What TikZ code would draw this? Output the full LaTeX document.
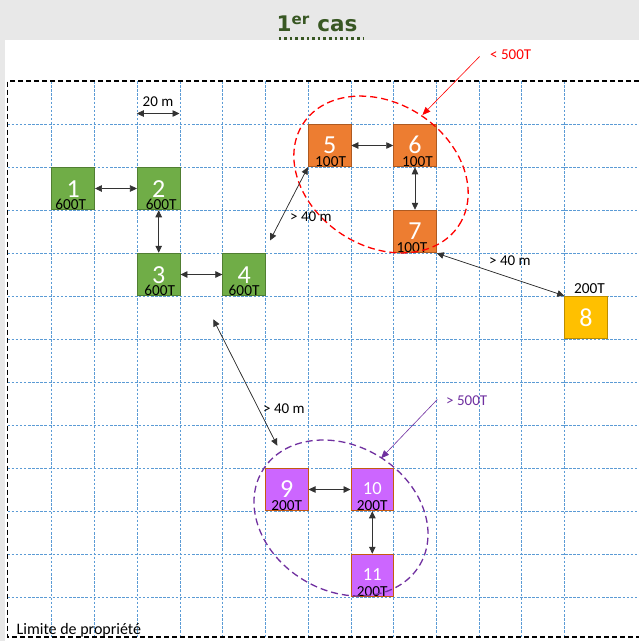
\documentclass[tikz,border=0pt]{standalone}
\usepackage{fontspec}
\setmainfont{Carlito}
\newfontfamily\titlefont{DejaVu Sans}
\usetikzlibrary{arrows.meta}
\definecolor{bggray}{RGB}{232,232,232}
\definecolor{gridblue}{RGB}{91,155,213}
\definecolor{gfill}{RGB}{112,173,71}
\definecolor{gdraw}{RGB}{80,126,50}
\definecolor{ofill}{RGB}{237,125,49}
\definecolor{odraw}{RGB}{174,90,33}
\definecolor{yfill}{RGB}{255,192,0}
\definecolor{ydraw}{RGB}{188,140,0}
\definecolor{pfill}{RGB}{204,102,255}
\definecolor{pdraw}{RGB}{197,90,17}
\definecolor{titlegreen}{RGB}{56,87,35}
\definecolor{redc}{RGB}{255,0,0}
\definecolor{purplec}{RGB}{112,48,160}
\begin{document}
\begin{tikzpicture}[x=1pt,y=-1pt,
  box/.style={draw, line width=0.8pt, minimum size=42.7pt, inner sep=0pt},
  num/.style={inner sep=0pt, text=white, font=\fontsize{26}{26}\selectfont},
  smallnum/.style={inner sep=0pt, text=white, font=\fontsize{18.5}{18.5}\selectfont},
  gbox/.style={box, fill=gfill, draw=gdraw},
  obox/.style={box, fill=ofill, draw=odraw},
  ybox/.style={box, fill=yfill, draw=ydraw},
  pbox/.style={box, fill=pfill, draw=pdraw},
  val/.style={anchor=base, inner sep=0pt, font=\fontsize{15.3}{15.3}\selectfont},
  lbl/.style={anchor=west, inner sep=0pt, font=\fontsize{15}{15}\selectfont},
  gridline/.style={draw=gridblue, line width=0.8pt, dash pattern=on 2.5pt off 1.6pt},
  border/.style={draw=black, line width=1.4pt, dash pattern=on 5pt off 3pt},
  dbl/.style={{Triangle[length=7pt,width=6.5pt]}-{Triangle[length=7pt,width=6.5pt]}, line width=0.7pt, draw=black!80, fill=black},
  pointer/.style={-{Triangle[length=8pt,width=6.5pt]}, line width=0.6pt},
  zone/.style={line width=1.3pt, dash pattern=on 7pt off 4pt}
]
\useasboundingbox (0,0) rectangle (639,641);
% backgrounds
\fill[bggray] (0,0) rectangle (639,641);
\fill[white] (5,40) rectangle (639,641);
% title
\node[anchor=base west, inner sep=0pt, text=titlegreen, font=\titlefont\fontsize{21.5}{21.5}\selectfont\bfseries] (title) at (276.5,31.7) {1\textsuperscript{er} cas};
\draw[titlegreen, line width=2.7pt, dash pattern=on 2.7pt off 2.9pt] (278.5,38.3) -- (363.5,38.3);
% grid
\foreach \i in {1,...,13} \draw[gridline] ({9.1+42.73*\i},81) -- ({9.1+42.73*\i},637);
\foreach \j in {1,...,12} \draw[gridline] (7.5,{81+43*\j}) -- (639,{81+43*\j});
% property limit
\draw[border] (639,81) -- (7.5,81) -- (7.5,637) -- (639,637);
\node[anchor=base west, inner sep=0pt, font=\fontsize{16}{16}\selectfont] (limite) at (16.5,634) {Limite de propriété};
% scale
\node[anchor=base, inner sep=0pt, font=\fontsize{15}{15}\selectfont] (scale) at (158,106.5) {20 m};
\coordinate (sa) at (136.8,113.5);
\coordinate (sb) at (179.5,113.5);
\draw[dbl] (sa) -- (sb);
% boxes
\node[gbox] (b1) at (73.2,188.5) {};
\node[gbox] (b2) at (158.7,188.5) {};
\node[gbox] (b3) at (158.7,274.5) {};
\node[gbox] (b4) at (244.1,274.5) {};
\node[obox] (b5) at (329.6,145.5) {};
\node[obox] (b6) at (415.0,145.5) {};
\node[obox] (b7) at (415.0,231.5) {};
\node[ybox] (b8) at (586.0,317.5) {};
\node[pbox] (b9) at (286.8,489.5) {};
\node[pbox] (b10) at (372.3,489.5) {};
\node[pbox] (b11) at (372.3,575.5) {};
% numbers
\node[num] (n1) at ([yshift=-0.5pt]b1.center) {1};
\node[num] (n2) at ([yshift=-0.5pt]b2.center) {2};
\node[num] (n3) at ([yshift=-0.5pt]b3.center) {3};
\node[num] (n4) at ([yshift=-0.5pt]b4.center) {4};
\node[num] (n5) at ([yshift=0.5pt]b5.center) {5};
\node[num] (n6) at ([yshift=0.5pt]b6.center) {6};
\node[num] (n7) at ([yshift=0.5pt]b7.center) {7};
\node[num] (n8) at (b8.center) {8};
\node[num] (n9) at ([yshift=0.5pt]b9.center) {9};
\node[smallnum] (n10) at ([yshift=1pt]b10.center) {10};
\node[smallnum] (n11) at ([yshift=1pt]b11.center) {11};
% values
\node[val] (v1) at ([xshift=-2.5pt,yshift=1.2pt]b1.south) {600T};
\node[val] (v2) at ([xshift=2.5pt,yshift=1.2pt]b2.south) {600T};
\node[val] (v3) at ([xshift=1pt,yshift=1.2pt]b3.south) {600T};
\node[val] (v4) at ([yshift=1.2pt]b4.south) {600T};
\node[val] (v5) at ([xshift=1pt,yshift=1.2pt]b5.south) {100T};
\node[val] (v6) at ([xshift=2.5pt,yshift=1.2pt]b6.south) {100T};
\node[val] (v7) at ([xshift=-3pt,yshift=1.2pt]b7.south) {100T};
\node[val] (v8) at ([xshift=3.5pt,yshift=1.8pt]b8.north) {200T};
\node[val] (v9) at ([yshift=1.2pt]b9.south) {200T};
\node[val] (v10) at ([yshift=1.2pt]b10.south) {200T};
\node[val] (v11) at ([yshift=1.2pt]b11.south) {200T};
% zones
\coordinate (rc) at (381,174.5);
\draw[zone, redc, rotate around={-33:(rc)}] (rc) ellipse [x radius=93pt, y radius=71.4pt];
\coordinate (pc) at (341,518);
\draw[zone, purplec, rotate around={-31:(pc)}] (pc) ellipse [x radius=91.7pt, y radius=72.4pt];
% zone labels
\node[lbl, text=redc] (rl) at (490,55) {< 500T};
\coordinate (ra) at (479.6,56.5);
\coordinate (rb) at (422.4,115);
\draw[pointer, redc] (ra) -- (rb);
\node[lbl, text=purplec] (pl) at (446,401) {> 500T};
\coordinate (pa) at (437.3,399.5);
\coordinate (pb) at (381,458.3);
\draw[pointer, purplec] (pa) -- (pb);
% connectors
\draw[dbl] (b1.east) -- (b2.west);
\draw[dbl] (b2.south) -- (b3.north);
\draw[dbl] (b3.east) -- (b4.west);
\draw[dbl] (b5.east) -- (b6.west);
\draw[dbl] (b6.south) -- (b7.north);
\draw[dbl] (b9.east) -- (b10.west);
\draw[dbl] (b10.south) -- (b11.north);
\coordinate (c45) at (270,240.5);
\draw[dbl] (c45) -- (b5.south west);
\draw[dbl] (b7.south east) -- (b8.north west);
\coordinate (c49a) at (213.3,319.3);
\coordinate (c49b) at (277.3,445.7);
\draw[dbl] (c49a) -- (c49b);
% distance labels
\node[lbl] (d1) at (290,216.5) {> 40 m};
\node[lbl] (d2) at (489,261) {> 40 m};
\node[lbl] (d3) at (263,409) {> 40 m};
\end{tikzpicture}
\end{document}
